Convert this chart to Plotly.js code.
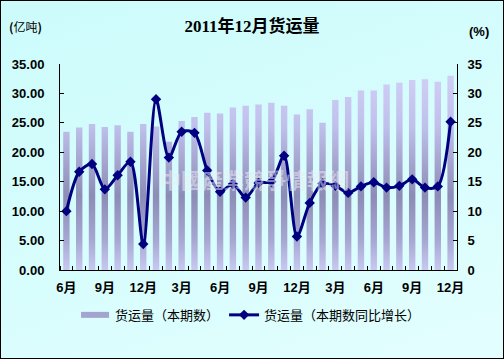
<!DOCTYPE html>
<html>
<head>
<meta charset="utf-8">
<script src="https://cdn.plot.ly/plotly-3.0.1.min.js"></script>
<style>
html,body{margin:0;padding:0;}
#wrap{position:relative;width:504px;height:359px;background:linear-gradient(160deg,#ccfbfb 0%,#d9fdfd 60%,#e4fefe 100%);}
#chart{position:absolute;left:0;top:0;width:504px;height:359px;}
#frame{position:absolute;left:0;top:0;width:504px;height:359px;box-sizing:border-box;border:1px solid #000;pointer-events:none;}
</style>
</head>
<body>
<div id="wrap"><div id="chart"></div><div id="frame"></div></div>
<script>
// Month index 0..30: June 2009 .. December 2011
const months = ['6月','7月','8月','9月','10月','11月','12月','1月','2月','3月','4月','5月','6月','7月','8月','9月','10月','11月','12月','1月','2月','3月','4月','5月','6月','7月','8月','9月','10月','11月','12月'];
const tickIdx = [0,3,6,9,12,15,18,21,24,27,30];
const tickText = ['6月','9月','12月','3月','6月','9月','12月','3月','6月','9月','12月'];
// 货运量（本期数）, 亿吨
const volume = [23.5,24.2,24.8,24.3,24.6,23.5,24.8,24.4,21.8,25.3,26.0,26.7,26.6,27.6,27.9,28.1,28.4,27.9,26.4,27.3,25.0,28.9,29.4,30.5,30.5,31.5,31.8,32.3,32.4,32.0,33.0];
// 货运量（本期数同比增长）, %
const growth = [10.0,16.7,18.0,13.7,16.1,18.4,4.4,29.0,19.1,23.5,23.3,16.9,13.3,14.6,12.3,14.8,15.0,19.4,5.7,11.4,14.7,14.3,13.1,14.2,14.9,14.0,14.3,15.4,14.0,14.2,25.2];

const xIdx = months.map((m,i)=>i);

const tickFont = {family:'"Liberation Sans Narrow","Arial Narrow","Liberation Sans","Noto Sans CJK SC"', size:13, color:'#000', weight:'bold'};

const traces = [
  {type:'bar', x:xIdx, y:volume, name:'货运量（本期数）', width:0.5,
   marker:{color:'#b0b0da', line:{width:0}}, yaxis:'y', hoverinfo:'none'},
  {type:'scatter', mode:'lines+markers', x:xIdx, y:growth, name:'货运量（本期数同比增长）',
   line:{color:'#000080', width:3, shape:'spline', smoothing:0.8},
   marker:{symbol:'diamond', size:8, color:'#000080'}, yaxis:'y2', hoverinfo:'none'}
];

const layout = {
  width:504, height:359,
  margin:{l:60, r:47, t:64, b:89},
  paper_bgcolor:'rgba(0,0,0,0)', plot_bgcolor:'rgba(0,0,0,0)',
  showlegend:true,
  title:{text:'<b>2011年12月货运量</b>', x:0.5, xanchor:'center', y:0.927, yanchor:'middle',
         font:{family:'"Liberation Serif","Noto Sans CJK SC"', size:17, color:'#000'}},
  xaxis:{range:[-0.5,30.5], tickmode:'array', tickvals:tickIdx, ticktext:tickText,
         ticks:'', showgrid:false, zeroline:false, showline:true, linecolor:'#000', linewidth:1,
         tickfont:tickFont, ticklabelstandoff:5,
         minor:{tickmode:'linear', tick0:0.5, dtick:1, ticks:'inside', ticklen:4, tickcolor:'#000', showgrid:false}},
  yaxis:{range:[0,35], tickmode:'linear', tick0:0, dtick:5, tickformat:'.2f',
         ticks:'inside', ticklen:4, tickcolor:'#000', showgrid:false, zeroline:false,
         showline:true, linecolor:'#000', linewidth:1, tickfont:tickFont, ticklabelstandoff:12},
  yaxis2:{range:[0,35], tickmode:'linear', tick0:0, dtick:5, overlaying:'y', side:'right',
         ticks:'inside', ticklen:4, tickcolor:'#000', showgrid:false, zeroline:false,
         showline:true, linecolor:'#000', linewidth:1, tickfont:tickFont, ticklabelstandoff:7},
  legend:{orientation:'h', x:0.48, xanchor:'center', y:-0.218, yanchor:'middle',
          font:{family:'"Noto Sans CJK SC"', size:13, color:'#000'}, bgcolor:'rgba(0,0,0,0)',
          itemwidth:30, tracegroupgap:0},
  annotations:[
    {text:'<b>(</b>亿吨<b>)</b>', xref:'paper', yref:'paper', x:-0.133, xanchor:'left', y:1.18, yanchor:'middle',
     showarrow:false, font:{family:'"Noto Sans CJK SC"', size:12, color:'#000'}},
    {text:'<b>(%)</b>', xref:'paper', yref:'paper', x:1.025, xanchor:'left', y:1.16, yanchor:'middle',
     showarrow:false, font:{family:'"Liberation Sans Narrow","Liberation Sans"', size:13, color:'#000'}},
    {text:'<b>中國產業競爭情報網</b>', xref:'paper', yref:'paper', x:0.49, xanchor:'center', y:0.44, yanchor:'middle',
     showarrow:false, font:{family:'"Noto Sans CJK TC"', size:21, color:'rgba(235,235,245,0.55)'}}
  ]
};

Plotly.newPlot('chart', traces, layout, {staticPlot:true}).then(function(gd){
  const ya = gd._fullLayout.yaxis;
  const svg = gd.querySelector('svg.main-svg');
  const ns = 'http://www.w3.org/2000/svg';
  let defs = svg.querySelector('defs');
  if(!defs){defs = document.createElementNS(ns,'defs'); svg.insertBefore(defs, svg.firstChild);}
  const grad = document.createElementNS(ns,'linearGradient');
  grad.setAttribute('id','barGrad');
  grad.setAttribute('gradientUnits','userSpaceOnUse');
  grad.setAttribute('x1','0'); grad.setAttribute('x2','0');
  grad.setAttribute('y1', String(ya.l2p(35))); grad.setAttribute('y2', String(ya.l2p(0)));
  [[0,'#d2d2f8'],[0.3,'#c0c0ec'],[0.64,'#8c8cb6'],[0.85,'#a6a6d2'],[1,'#c8c8f2']].forEach(function(s){
    const st = document.createElementNS(ns,'stop');
    st.setAttribute('offset', String(s[0])); st.setAttribute('stop-color', s[1]);
    grad.appendChild(st);
  });
  defs.appendChild(grad);
  gd.querySelectorAll('.barlayer .point path').forEach(function(p){ p.style.fill = 'url(#barGrad)'; });
  const lt = gd.querySelectorAll('.legend .traces');
  if(lt.length){
    const lp = lt[0].querySelector('.legendpoints path');
    if(lp){ lp.setAttribute('d','M-14,-3h28v6h-28Z'); lp.style.fill = '#a4a4d0'; lp.style.stroke = 'none'; }
  }
});
</script>
</body>
</html>
